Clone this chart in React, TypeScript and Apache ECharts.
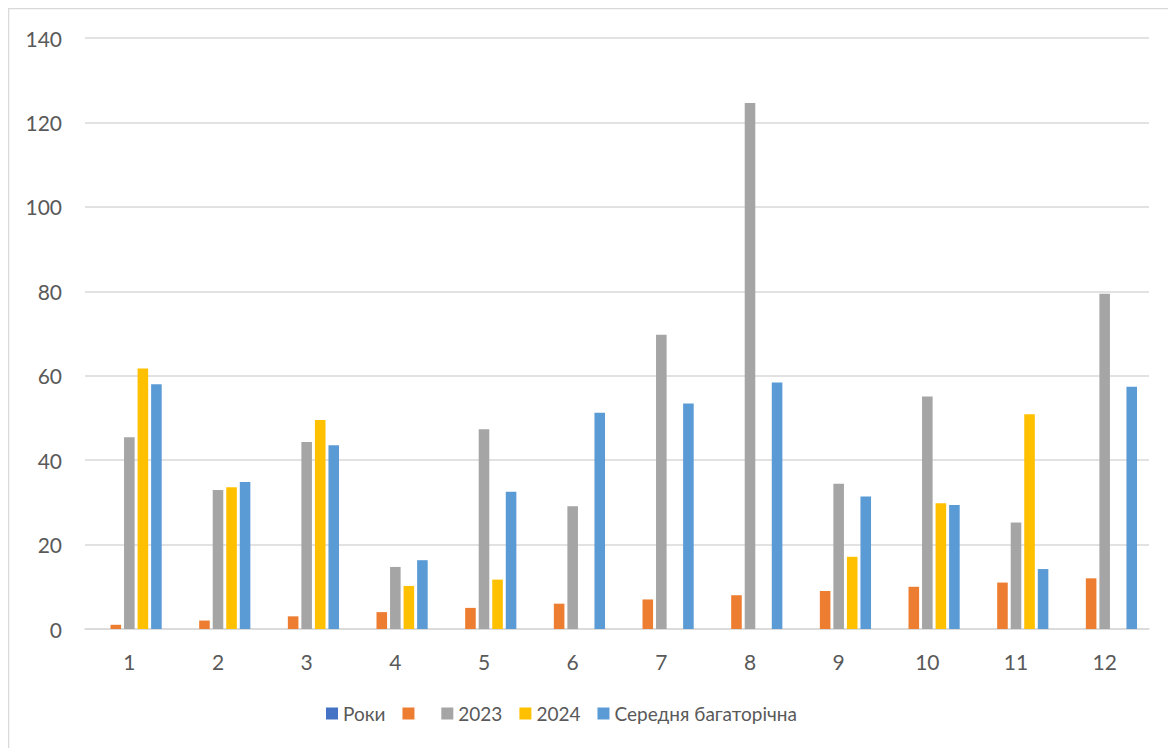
import React, { useEffect, useRef } from "react";
import * as echarts from "echarts";

const categories = ["1", "2", "3", "4", "5", "6", "7", "8", "9", "10", "11", "12"];
const seriesNames = ["Роки", " ", "2023", "2024", "Середня багаторічна"];
const rokiValues: (number | null)[] = [null, null, null, null, null, null, null, null, null, null, null, null];
const monthValues = [1, 2, 3, 4, 5, 6, 7, 8, 9, 10, 11, 12];
const values2023 = [45.4, 32.9, 44.3, 14.7, 47.3, 29.1, 69.7, 124.6, 34.4, 55.1, 25.2, 79.4];
const values2024: (number | null)[] = [61.7, 33.6, 49.5, 10.2, 11.7, null, null, null, 17.1, 29.8, 50.9, null];
const valuesAvg = [58.0, 34.8, 43.5, 16.3, 32.5, 51.2, 53.4, 58.4, 31.4, 29.4, 14.2, 57.4];
const colors = ["#4472C4", "#ED7D31", "#A5A5A5", "#FFC000", "#5B9BD5"];
const yTicks = { min: 0, max: 140, interval: 20 };

export default function App() {
  const ref = useRef<HTMLDivElement>(null);
  useEffect(() => {
    if (!ref.current) return;
    const chart = echarts.init(ref.current, undefined, { renderer: "svg" });
    const dataSets = [rokiValues, monthValues, values2023, values2024, valuesAvg];
    const font = "Lato";
    chart.setOption({
      animation: false,
      color: colors,
      graphic: [
        {
          type: "rect",
          shape: { x: 0.5, y: 0.5, width: 1300, height: 900 },
          style: { fill: "none", stroke: "#d9d9d9", lineWidth: 1.5 },
          silent: true,
        },
      ],
      grid: { left: 77, right: 27, top: 30, bottom: 119 },
      legend: {
        bottom: 20,
        left: 313,
        itemWidth: 12,
        itemHeight: 12,
        itemGap: 17,
        icon: "rect",
        data: seriesNames,
        textStyle: { color: "#595959", fontSize: 19, fontFamily: font },
      },
      xAxis: {
        type: "category",
        data: categories,
        axisLine: { show: true, lineStyle: { color: "#d9d9d9", width: 1.5 } },
        axisTick: { show: false },
        axisLabel: { color: "#595959", fontSize: 21, fontFamily: font, margin: 22 },
      },
      yAxis: {
        type: "value",
        min: yTicks.min,
        max: yTicks.max,
        interval: yTicks.interval,
        axisLine: { show: false },
        axisTick: { show: false },
        splitLine: { lineStyle: { color: "#d9d9d9", width: 1.5 } },
        axisLabel: { color: "#595959", fontSize: 21, fontFamily: font, margin: 23 },
      },
      series: seriesNames.map((name, i) => ({
        name,
        type: "bar",
        data: dataSets[i],
        barGap: "28%",
        barCategoryGap: "27%",
        itemStyle: { color: colors[i] },
      })),
    });
    return () => chart.dispose();
  }, []);
  return <div ref={ref} style={{ width: 1168, height: 740 }} />;
}
